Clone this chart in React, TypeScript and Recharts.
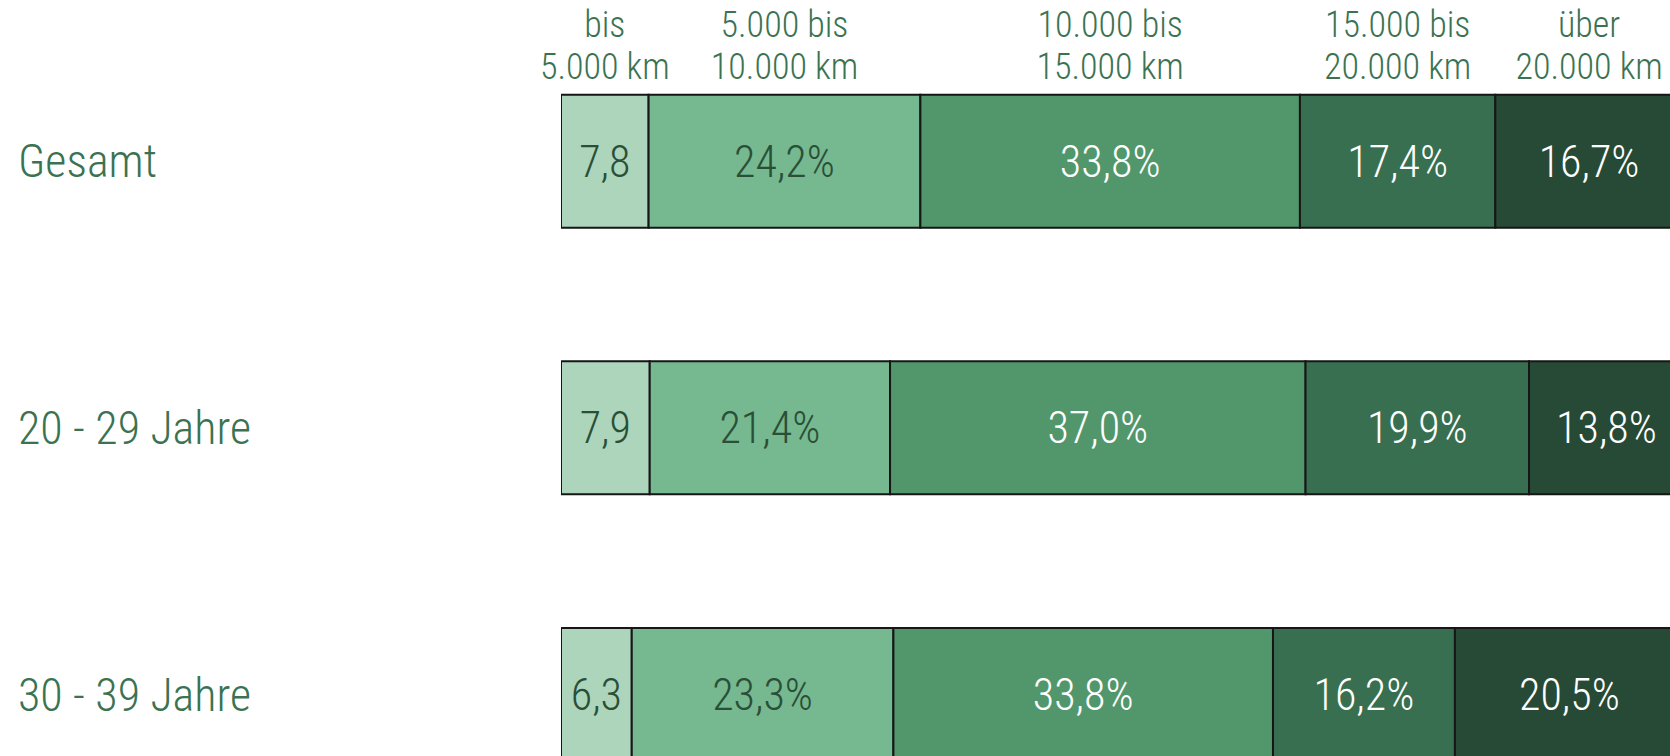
import { BarChart, Bar, XAxis, YAxis, LabelList } from "recharts"

const groups = ["Gesamt", "20 - 29 Jahre", "30 - 39 Jahre"]

const upTo5k = [7.8, 7.9, 6.3]
const from5kTo10k = [24.2, 21.4, 23.3]
const from10kTo15k = [33.8, 37.0, 33.8]
const from15kTo20k = [17.4, 19.9, 16.2]
const over20k = [16.7, 13.8, 20.5]

const headers = [
  ["bis", "5.000 km"],
  ["5.000 bis", "10.000 km"],
  ["10.000 bis", "15.000 km"],
  ["15.000 bis", "20.000 km"],
  ["über", "20.000 km"],
]

const seriesKeys = ["s1", "s2", "s3", "s4", "s5"]
const seriesValues = [upTo5k, from5kTo10k, from10kTo15k, from15kTo20k, over20k]
const fills = ["#acd5bb", "#76b88f", "#52976b", "#386f50", "#264a35"]
const labelColors = ["#2a4f37", "#2a4f37", "#ffffff", "#ffffff", "#ffffff"]

const data = groups.map((name, i) => {
  const row: any = { name }
  seriesKeys.forEach((k, j) => {
    row[k] = seriesValues[j][i]
  })
  return row
})

const FONT = "'Liberation Sans Narrow', 'Roboto Condensed', 'DejaVu Sans Condensed', Roboto, sans-serif"
const TEXT_GREEN = "#3b7352"

function RowTick(props: any) {
  const { y, payload } = props
  return (
    <text x={18} y={y} dy={16} fill={TEXT_GREEN} fontFamily={FONT} fontSize={46} fontWeight={300} textAnchor="start">
      {payload.value}
    </text>
  )
}

// column headers sit above the first row's segments
function HeaderLabel(props: any) {
  const { x, y, width, index, seriesIndex } = props
  if (index !== 0) return null
  const cx = Number(x) + Number(width) / 2
  const top = Number(y)
  return (
    <g fill={TEXT_GREEN} fontFamily={FONT} fontSize={36} fontWeight={300}>
      <text x={cx} y={top - 58} textAnchor="middle">{headers[seriesIndex][0]}</text>
      <text x={cx} y={top - 16} textAnchor="middle">{headers[seriesIndex][1]}</text>
    </g>
  )
}

export default function App() {
  return (
    <div style={{ position: "absolute", left: 0, top: 0, width: 1670, height: 756, overflow: "hidden", background: "#fff" }}>
      <BarChart
        width={1684}
        height={828}
        data={data}
        layout="vertical"
        barCategoryGap="25%"
        margin={{ top: 28, right: 0, left: 0, bottom: 0 }}
      >
        <XAxis type="number" domain={[0, 100]} allowDataOverflow hide />
        <YAxis
          type="category"
          dataKey="name"
          width={561}
          axisLine={false}
          tickLine={false}
          tick={<RowTick />}
        />
        {seriesKeys.map((k, j) => (
          <Bar
            key={k}
            dataKey={k}
            stackId="a"
            fill={fills[j]}
            stroke="#161616"
            strokeWidth={2}
            isAnimationActive={false}
          >
            <LabelList
              dataKey={k}
              position="center"
              fill={labelColors[j]}
              fontFamily={FONT}
              fontSize={44}
              fontWeight={300}
              formatter={(v: any) => Number(v).toFixed(1).replace(".", ",") + (j === 0 ? "" : "%")}
            />
            <LabelList dataKey={k} content={(p: any) => <HeaderLabel {...p} seriesIndex={j} />} />
          </Bar>
        ))}
      </BarChart>
    </div>
  )
}
